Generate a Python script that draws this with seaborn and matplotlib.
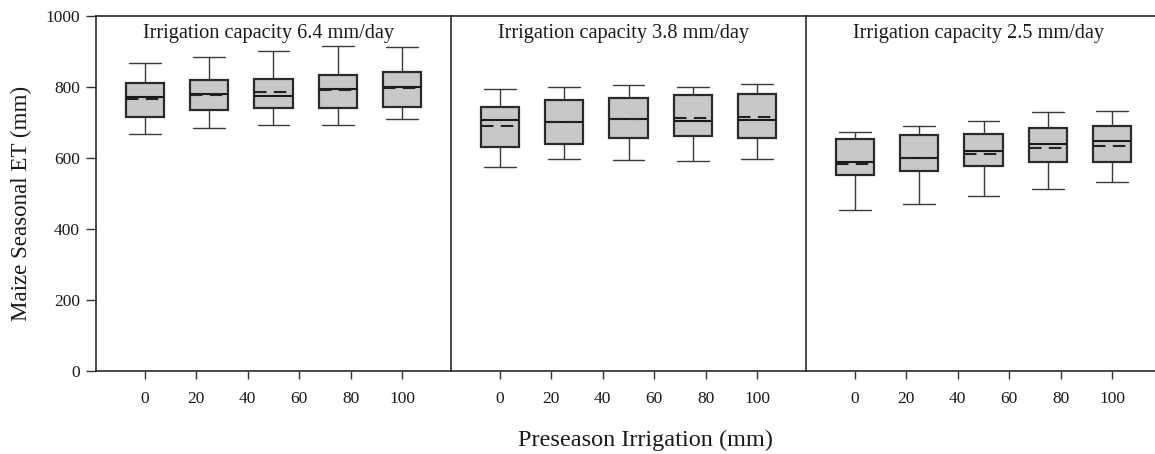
import numpy as np
import pandas as pd
import matplotlib
matplotlib.use("Agg")
import matplotlib.pyplot as plt
import seaborn as sns

# ---------------- data ----------------
preseason = [0, 25, 50, 75, 100]          # box positions on the preseason axis
tick_values = [0, 20, 40, 60, 80, 100]     # x tick labels
capacities = ["6.4", "3.8", "2.5"]         # irrigation capacity (mm/day)

# capacity 6.4 mm/day
c64_whislo = [668, 685, 692, 693, 709]
c64_q1 = [716, 735, 742, 742, 743]
c64_med = [771, 780, 774, 794, 800]
c64_mean = [767, 777, 785, 792, 798]
c64_q3 = [811, 819, 822, 834, 842]
c64_whishi = [867, 885, 901, 915, 914]

# capacity 3.8 mm/day
c38_whislo = [575, 598, 595, 590, 598]
c38_q1 = [631, 638, 657, 662, 655]
c38_med = [707, 700, 709, 705, 706]
c38_mean = [690, 700, 709, 712, 715]
c38_q3 = [744, 763, 770, 777, 780]
c38_whishi = [793, 800, 805, 800, 809]

# capacity 2.5 mm/day
c25_whislo = [453, 470, 492, 513, 532]
c25_q1 = [552, 563, 577, 588, 589]
c25_med = [588, 601, 619, 638, 647]
c25_mean = [584, 599, 610, 629, 634]
c25_q3 = [654, 664, 667, 683, 690]
c25_whishi = [674, 690, 705, 729, 732]

panels = {
    "6.4": (c64_whislo, c64_q1, c64_med, c64_mean, c64_q3, c64_whishi),
    "3.8": (c38_whislo, c38_q1, c38_med, c38_mean, c38_q3, c38_whishi),
    "2.5": (c25_whislo, c25_q1, c25_med, c25_mean, c25_q3, c25_whishi),
}

# ---------------- style ----------------
sns.set_theme(style="white")
plt.rcParams["font.family"] = ["Liberation Serif", "DejaVu Serif"]
plt.rcParams["text.color"] = "#1a1a1a"

W, H = 1155, 454
fig = plt.figure(figsize=(W / 100, H / 100), dpi=100)

left_px, panel_w, top_px, bottom_px = 96, 355, 16, 370.7
box_fill = "#c8c8c8"
edge = "#2a2a2a"

for i, cap in enumerate(capacities):
    lo, q1, med, mean, q3, hi = panels[cap]
    x0 = left_px + i * panel_w
    ax = fig.add_axes([x0 / W, 1 - bottom_px / H, panel_w / W, (bottom_px - top_px) / H])

    df = pd.DataFrame({
        "preseason": np.repeat(preseason, 5),
        "et": np.column_stack([lo, q1, med, q3, hi]).ravel(),
    })
    stats = [
        dict(whislo=a, q1=b, med=c, mean=d, q3=e, whishi=f, fliers=[], label=str(p))
        for p, a, b, c, d, e, f in zip(preseason, lo, q1, med, mean, q3, hi)
    ]

    sns.boxplot(
        data=df, x="preseason", y="et", ax=ax,
        native_scale=True, width=0.6, whis=(0, 100), showfliers=False,
        color=box_fill, linecolor=edge, linewidth=1.6, saturation=1,
        showmeans=True, meanline=True,
        meanprops=dict(color="#222222", linewidth=1.5, linestyle=(0, (6, 3.5))),
        medianprops=dict(color="#1a1a1a", linewidth=1.5),
        whiskerprops=dict(color="#3a3a3a", linewidth=1.0),
        capprops=dict(color="#3a3a3a", linewidth=1.0),
        capwidths=12.4,
        bxpstats=stats,
    )

    ax.set_xlim(-19, 119)
    ax.set_ylim(0, 1000)
    ax.set_xticks(tick_values)
    ax.set_xticklabels([str(t) for t in tick_values])
    ax.set_xlabel("")
    ax.set_ylabel("")
    ax.tick_params(axis="x", direction="out", length=5.5, width=1.0, color="#333333",
                   labelsize=12.5, pad=9, bottom=True, labelcolor="#1a1a1a")
    if i == 0:
        ax.set_yticks([0, 200, 400, 600, 800, 1000])
        ax.tick_params(axis="y", direction="out", length=7.5, width=1.0, color="#333333",
                       labelsize=12.5, pad=4, left=True, labelcolor="#1a1a1a")
    else:
        ax.tick_params(axis="y", left=False, labelleft=False)

    for side in ["left", "top", "bottom"]:
        ax.spines[side].set_visible(True)
        ax.spines[side].set_color("#2a2a2a")
        ax.spines[side].set_linewidth(1.2)
    ax.spines["right"].set_visible(False)
    ax.grid(False)
    ax.set_facecolor("white")

    ax.text(0.487, 1 - 22.3 / (bottom_px - top_px), f"Irrigation capacity {cap} mm/day",
            transform=ax.transAxes, ha="center", va="baseline", fontsize=14.6)

fig.text(646 / W, 1 - 446 / H, "Preseason Irrigation (mm)", ha="center", va="baseline",
         fontsize=17.5)
fig.text(21 / W, 1 - 203 / H, "Maize Seasonal ET (mm)", ha="center", va="center",
         rotation=90, fontsize=16.6)

fig.savefig("out.png", dpi=100, facecolor="white")
